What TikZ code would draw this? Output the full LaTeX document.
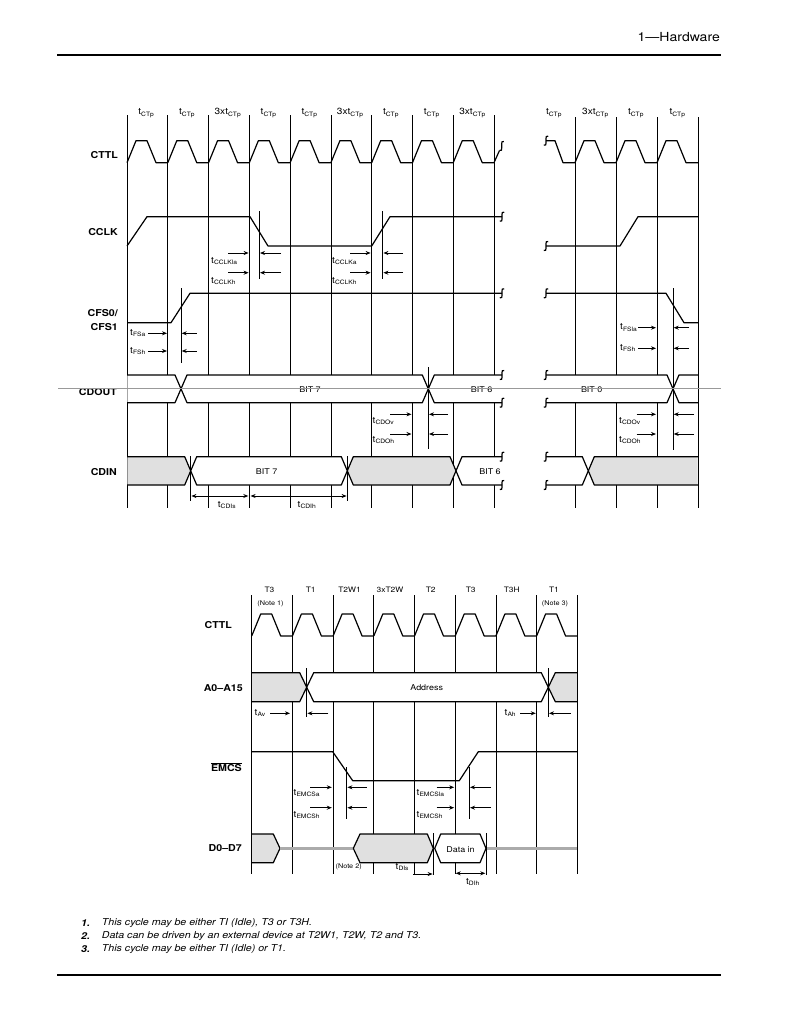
\documentclass[tikz,border=0pt]{standalone}
\usepackage{fontspec}
\setmainfont{TeX Gyre Heros}[FakeStretch=1.12]
\usetikzlibrary{arrows.meta}
\def\brk(#1,#2){\draw[wave] (#1+2.2,#2-4.5) .. controls (#1,#2-4.5) .. (#1,#2-2) -- (#1,#2+2) .. controls (#1,#2+4.5) .. (#1-2.2,#2+4.5);}
\newcommand{\tsb}[1]{t\textsubscript{#1}}

\begin{document}
\begin{tikzpicture}[x=1pt,y=-1pt,
		wave/.style={line width=1.2pt, line join=round},
		gridln/.style={line width=0.7pt},
		bus/.style={line width=1.2pt, line join=round},
		shade/.style={fill=black!12},
		float/.style={line width=2.4pt, draw=black!33},
		dim/.style={-{Stealth[length=5pt,width=4pt]}, line width=0.8pt},
		dimboth/.style={{Stealth[length=5pt,width=4pt]}-{Stealth[length=5pt,width=4pt]}, line width=0.8pt},
		lbl/.style={font=\fontsize{8}{9}\selectfont, inner sep=0pt},
		tlbl/.style={font=\fontsize{9}{10}\selectfont, inner sep=0pt},
		sig/.style={font=\fontsize{9.5}{14}\selectfont\bfseries, anchor=east, inner sep=0pt, align=right},
		note/.style={font=\fontsize{9.5}{12}\selectfont\itshape, anchor=west, inner sep=0pt}]
			%%%%% START %%%%%
			\useasboundingbox (0,0) rectangle (807,1036);
			
			\node[anchor=east, inner sep=0pt, font=\fontsize{12.5}{14}\selectfont] (title) at (720,37) {1—Hardware};
			\draw[line width=1.4pt] (57,55) -- (721,55);
			
			% grid, upper diagram
			\foreach \i [evaluate=\i as \x using 127+40.78*\i] in {0,...,9}
				\draw[gridln] (\x,115) -- (\x,508);
			\foreach \x in {575,616,657,698}
				\draw[gridln] (\x,117) -- (\x,508);
			\foreach \i/\m [evaluate=\i as \x using 126+40.78*(\i+0.5)] in {0/,1/,2/3x,3/,4/,5/3x,6/,7/,8/3x}
				\node[tlbl] (cyc\i) at (\x,113) {\m\tsb{CTp}};
			\node[tlbl] (cycR0) at (554,113) {\tsb{CTp}};
			\node[tlbl] (cycR1) at (595.5,113) {3x\tsb{CTp}};
			\node[tlbl] (cycR2) at (636,113) {\tsb{CTp}};
			\node[tlbl] (cycR3) at (677.5,113) {\tsb{CTp}};
			
			\node[sig] (cttl) at (118,155) {CTTL};
			\node[sig] (cclk) at (118,231.7) {CCLK};
			\node[sig] (cfs) at (118,319.7) {CFS0/\\CFS1};
			\node[sig] (cdout) at (117,392) {CDOUT};
			\node[sig] (cdin) at (117,472.3) {CDIN};
			
			% CTTL
			\foreach \i [evaluate=\i as \x using 127+40.78*\i] in {0,...,8}
				\draw[wave] (\x,162.7) -- ++(9,-22) -- ++(11,0) -- ++(9,22) -- ++(11.78,0);
			\draw[wave] (494,162.7) -- (499.5,150.5);
			\brk(501.7,146)
			\brk(546,140.7)
			\draw[wave] (546,140.7) -- (555,140.7) -- (563,162.7) -- (575,162.7);
			\foreach \x in {575,616,657}
				\draw[wave] (\x,162.7) -- ++(9,-22) -- ++(11,0) -- ++(9,22) -- ++(12,0);
			
			% CCLK
			\draw[wave] (127,246) -- (147,216.7) -- (250,216.7) -- (268,246) -- (371.7,246) -- (390,216.7) -- (502,216.7);
			\brk(502,216.7)
			\brk(546,246)
			\draw[wave] (546,246) -- (620,246) -- (638,216.7) -- (698,216.7);
			
			% CFS0/CFS1
			\draw[wave] (127,322.7) -- (171,322.7) -- (190,293.3) -- (502,293.3);
			\brk(502,293.3)
			\brk(546,293.3)
			\draw[wave] (546,293.3) -- (666,293.3) -- (684,322.7) -- (698,322.7);
			
			% CDOUT
			\fill[white] (127.4,375) -- (175,375) -- (181,388.85) -- (175,402.7) -- (127.4,402.7) -- cycle;
			\draw[bus] (127,375) -- (175,375) -- (181,388.85) -- (175,402.7) -- (127,402.7);
			\filldraw[bus, fill=white] (181,388.85) -- (187,375) -- (422.3,375) -- (428.3,388.85) -- (422.3,402.7) -- (187,402.7) -- cycle;
			\fill[white] (428.3,388.85) -- (434.3,375) -- (502,375) -- (502,402.7) -- (434.3,402.7) -- cycle;
			\draw[bus] (502,375) -- (434.3,375) -- (428.3,388.85) -- (434.3,402.7) -- (502,402.7);
			\fill[white] (546,375) -- (667,375) -- (673,388.85) -- (667,402.7) -- (546,402.7) -- cycle;
			\draw[bus] (546,375) -- (667,375) -- (673,388.85) -- (667,402.7) -- (546,402.7);
			\fill[white] (673,388.85) -- (679,375) -- (697.6,375) -- (697.6,402.7) -- (679,402.7) -- cycle;
			\draw[bus] (698,375) -- (679,375) -- (673,388.85) -- (679,402.7) -- (698,402.7);
			\brk(502,375) \brk(502,402.7) \brk(546,375) \brk(546,402.7)
			\node[lbl] (bit7o) at (310,390) {BIT 7};
			\node[lbl] (bit6o) at (481.7,390) {BIT 6};
			\node[lbl] (bit0o) at (591.7,390) {BIT 0};
			
			% CDIN
			\fill[shade] (127.4,456.7) -- (184.7,456.7) -- (190.7,470.85) -- (184.7,485) -- (127.4,485) -- cycle;
			\draw[bus] (127,456.7) -- (184.7,456.7) -- (190.7,470.85) -- (184.7,485) -- (127,485);
			\filldraw[bus, fill=white] (190.7,470.85) -- (196.7,456.7) -- (341.3,456.7) -- (347.3,470.85) -- (341.3,485) -- (196.7,485) -- cycle;
			\filldraw[bus, shade] (347.3,470.85) -- (353.3,456.7) -- (450,456.7) -- (456,470.85) -- (450,485) -- (353.3,485) -- cycle;
			\fill[white] (456,470.85) -- (462,456.7) -- (502,456.7) -- (502,485) -- (462,485) -- cycle;
			\draw[bus] (502,456.7) -- (462,456.7) -- (456,470.85) -- (462,485) -- (502,485);
			\fill[white] (546,456.7) -- (582.3,456.7) -- (588.3,470.85) -- (582.3,485) -- (546,485) -- cycle;
			\draw[bus] (546,456.7) -- (582.3,456.7) -- (588.3,470.85) -- (582.3,485) -- (546,485);
			\fill[shade] (588.3,470.85) -- (594.3,456.7) -- (697.6,456.7) -- (697.6,485) -- (594.3,485) -- cycle;
			\draw[bus] (698,456.7) -- (594.3,456.7) -- (588.3,470.85) -- (594.3,485) -- (698,485);
			\brk(502,456.7) \brk(502,485) \brk(546,456.7) \brk(546,485)
			\node[lbl] (bit7i) at (266.7,471.5) {BIT 7};
			\node[lbl] (bit6i) at (490,471.5) {BIT 6};
			
			% markers
			\draw[gridln] (259.3,211) -- (259.3,279);
			\draw[gridln] (382.7,211) -- (382.7,279);
			\draw[gridln] (181,288) -- (181,362.7);
			\draw[gridln] (428.3,367.3) -- (428.3,449.3);
			\draw[gridln] (673,288) -- (673,450);
			\draw[gridln] (190.7,456) -- (190.7,501);
			\draw[gridln] (347.3,456) -- (347.3,501);
			
			% timing arrows, upper diagram
			\foreach \y in {253,272.7} {
				\draw[dim] (228,\y) -- (248.6,\y); \draw[dim] (281,\y) -- (260,\y);
				\draw[dim] (350,\y) -- (370.6,\y); \draw[dim] (403,\y) -- (383.4,\y);
			}
			\foreach \y in {333.3,351} {
				\draw[dim] (148,\y) -- (167,\y); \draw[dim] (196.7,\y) -- (181.7,\y);
			}
			\foreach \y in {327.7,348.3} {
				\draw[dim] (638,\y) -- (656,\y); \draw[dim] (689,\y) -- (673.7,\y);
			}
			\foreach \y in {414.3,434} {
				\draw[dim] (390,\y) -- (411.5,\y); \draw[dim] (448,\y) -- (429,\y);
				\draw[dim] (636.7,\y) -- (656,\y); \draw[dim] (694,\y) -- (673.7,\y);
			}
			\draw[dimboth] (191.4,496) -- (248.3,496);
			\draw[dimboth] (250.6,496) -- (346.6,496);
			
			\node[tlbl, anchor=west] (tcka) at (211,261) {\tsb{CCLKla}};
			\node[tlbl, anchor=west] (tckh) at (211,281) {\tsb{CCLKh}};
			\node[tlbl, anchor=west] (tckb) at (332,261) {\tsb{CCLKa}};
			\node[tlbl, anchor=west] (tcki) at (332,281) {\tsb{CCLKh}};
			\node[tlbl, anchor=west] (tfsa) at (130,333.3) {\tsb{FSa}};
			\node[tlbl, anchor=west] (tfsh) at (130,351) {\tsb{FSh}};
			\node[tlbl, anchor=west] (tfsb) at (620,327.7) {\tsb{FSla}};
			\node[tlbl, anchor=west] (tfsi) at (620,348.3) {\tsb{FSh}};
			\node[tlbl, anchor=west] (tdov) at (372.5,421) {\tsb{CDOv}};
			\node[tlbl, anchor=west] (tdoh) at (372.5,440) {\tsb{CDOh}};
			\node[tlbl, anchor=west] (tdow) at (619,421) {\tsb{CDOv}};
			\node[tlbl, anchor=west] (tdoi) at (619,440) {\tsb{CDOh}};
			\node[tlbl] (tdis) at (227,505) {\tsb{CDIs}};
			\node[tlbl] (tdih) at (307,505) {\tsb{CDIh}};
			
			\draw[black!40, line width=0.8pt] (58,388) -- (721,388);
			
			% lower diagram
			\foreach \i [evaluate=\i as \x using 251.7+40.7*\i] in {0,...,8}
				\draw[gridln] (\x,595) -- (\x,874);
			\node[lbl, font=\fontsize{7.5}{9}\selectfont] (ph0) at (269.5,590) {T3};
			\node[lbl, font=\fontsize{7.5}{9}\selectfont] (ph1) at (310.7,590) {T1};
			\node[lbl, font=\fontsize{7.5}{9}\selectfont] (ph2) at (349.5,590) {T2W1};
			\node[lbl, font=\fontsize{7.5}{9}\selectfont] (ph3) at (390,590) {3xT2W};
			\node[lbl, font=\fontsize{7.5}{9}\selectfont] (ph4) at (430.7,590) {T2};
			\node[lbl, font=\fontsize{7.5}{9}\selectfont] (ph5) at (470.7,590) {T3};
			\node[lbl, font=\fontsize{7.5}{9}\selectfont] (ph6) at (511.7,590) {T3H};
			\node[lbl, font=\fontsize{7.5}{9}\selectfont] (ph7) at (554,590) {T1};
			\node[lbl, font=\fontsize{6.5}{8}\selectfont] (nt1) at (270.5,604) {(Note 1)};
			\node[lbl, font=\fontsize{6.5}{8}\selectfont] (nt3) at (555,604) {(Note 3)};
			
			\node[sig] (cttlb) at (232,625) {CTTL};
			\node[sig] (addr) at (243,688) {A0–A15};
			\node[sig] (emcs) at (242,766.7) {$\overline{\mbox{\bfseries EMCS}}$};
			\node[sig] (dbus) at (242,848.3) {D0–D7};
			
			\foreach \i [evaluate=\i as \x using 251.7+40.7*\i] in {0,...,7}
				\draw[wave] (\x,636) -- ++(9,-22) -- ++(11,0) -- ++(9,22) -- ++(11.7,0);
			
			\fill[shade] (252.1,672.7) -- (299.7,672.7) -- (306.7,687.2) -- (299.7,701.7) -- (252.1,701.7) -- cycle;
			\draw[bus] (251.7,672.7) -- (299.7,672.7) -- (306.7,687.2) -- (299.7,701.7) -- (251.7,701.7);
			\filldraw[bus, fill=white] (306.7,687.2) -- (313.7,672.7) -- (541.3,672.7) -- (548.3,687.2) -- (541.3,701.7) -- (313.7,701.7) -- cycle;
			\fill[shade] (548.3,687.2) -- (555.3,672.7) -- (576.9,672.7) -- (576.9,701.7) -- (555.3,701.7) -- cycle;
			\draw[bus] (577.3,672.7) -- (555.3,672.7) -- (548.3,687.2) -- (555.3,701.7) -- (577.3,701.7);
			\node[lbl] (adtx) at (426.7,688) {Address};
			
			\draw[wave] (251.7,751.7) -- (332.7,751.7) -- (352.7,780.7) -- (459.3,780.7) -- (478.3,751.7) -- (577.3,751.7);
			
			\fill[shade] (252.1,834) -- (273.3,834) -- (280,848.35) -- (273.3,862.7) -- (252.1,862.7) -- cycle;
			\draw[bus] (251.7,834) -- (273.3,834) -- (280,848.35) -- (273.3,862.7) -- (251.7,862.7);
			\draw[float] (280,848.35) -- (353.3,848.35);
			\filldraw[bus, shade] (353.3,848.35) -- (360,834) -- (427.3,834) -- (433.3,848.35) -- (427.3,862.7) -- (360,862.7) -- cycle;
			\filldraw[bus, fill=white] (434.7,848.35) -- (440.7,834) -- (480,834) -- (486,848.35) -- (480,862.7) -- (440.7,862.7) -- cycle;
			\draw[float] (486,848.35) -- (577.3,848.35);
			\node[lbl] (dinx) at (460.5,849.3) {Data in};
			
			\draw[gridln] (306.7,668) -- (306.7,716.7);
			\draw[gridln] (548.3,668) -- (548.3,716.7);
			\draw[gridln] (346.7,767) -- (346.7,819);
			\draw[gridln] (469.3,767) -- (469.3,819);
			\draw[gridln] (433.3,833) -- (433.3,875);
			\draw[gridln] (486,833) -- (486,875);
			
			\draw[dim] (270,713.3) -- (290,713.3); \draw[dim] (328.3,713.3) -- (307.4,713.3);
			\draw[dim] (520,713.3) -- (535.8,713.3); \draw[dim] (570.7,713.3) -- (549,713.3);
			\foreach \y in {787.3,807.7} {
				\draw[dim] (310,\y) -- (331.8,\y); \draw[dim] (366.7,\y) -- (347.4,\y);
				\draw[dim] (436.7,\y) -- (454.2,\y); \draw[dim] (491,\y) -- (470,\y);
			}
			\draw[dim] (413.3,874) -- (432.6,874);
			\draw[dimboth] (455.7,873.3) -- (485.3,873.3);
			
			\node[tlbl, anchor=west] (tav) at (254.5,713.3) {\tsb{Av}};
			\node[tlbl, anchor=west] (tah) at (504.5,713.3) {\tsb{Ah}};
			\node[tlbl, anchor=west] (tema) at (293.5,793.3) {\tsb{EMCSa}};
			\node[tlbl, anchor=west] (temh) at (293.5,815) {\tsb{EMCSh}};
			\node[tlbl, anchor=west] (temb) at (416.5,793.3) {\tsb{EMCSla}};
			\node[tlbl, anchor=west] (temi) at (416.5,815) {\tsb{EMCSh}};
			\node[tlbl, anchor=west] (tdi) at (395.5,867.3) {\tsb{DIs}};
			\node[tlbl] (tdj) at (473,882) {\tsb{DIh}};
			\node[lbl, font=\fontsize{6.5}{8}\selectfont] (nt2) at (348.7,867.3) {(Note 2)};
			
			% notes
			\node[anchor=west, inner sep=0pt, font=\fontsize{9.5}{12}\selectfont\bfseries\itshape] (num1) at (81,923.3) {1.};
			\node[anchor=west, inner sep=0pt, font=\fontsize{9.5}{12}\selectfont\bfseries\itshape] (num2) at (81,936) {2.};
			\node[anchor=west, inner sep=0pt, font=\fontsize{9.5}{12}\selectfont\bfseries\itshape] (num3) at (81,949.3) {3.};
			\node[note] (note1) at (101.7,923.3) {This cycle may be either TI (Idle), T3 or T3H.};
			\node[note] (note2) at (101.7,936) {Data can be driven by an external device at T2W1, T2W, T2 and T3.};
			\node[note] (note3) at (101.7,949.3) {This cycle may be either TI (Idle) or T1.};
			\draw[line width=1.4pt] (57,975) -- (721,975);
			%%%%% END %%%%%
\end{tikzpicture}
\end{document}
